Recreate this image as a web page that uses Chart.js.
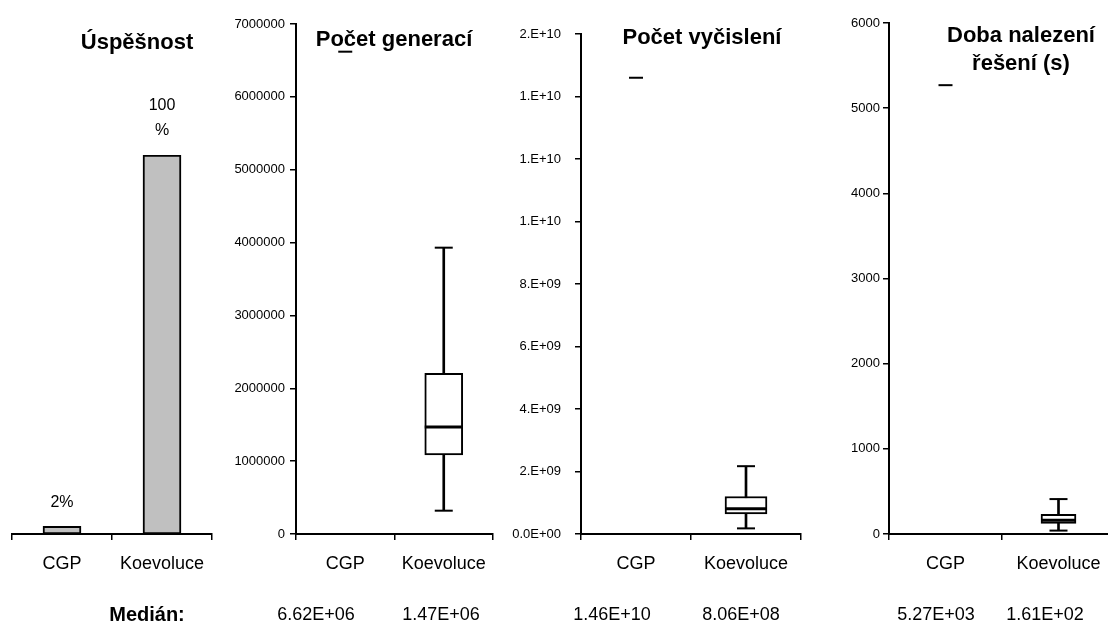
<!DOCTYPE html>
<html>
<head>
<meta charset="utf-8">
<script src="https://cdn.jsdelivr.net/npm/chart.js@4.4.1/dist/chart.umd.min.js"></script>
<style>
html,body{margin:0;padding:0;background:#fff;}
#wrap{position:relative;width:1108px;height:628px;overflow:hidden;font-family:"Liberation Sans",Arial,sans-serif;color:#000;}
canvas{position:absolute;top:0;}
.t{position:absolute;transform:translate(-50%,-50%);white-space:nowrap;color:#000;text-align:center;}
.title{font-weight:bold;font-size:22px;line-height:28px;}
.med{font-size:18px;}
</style>
</head>
<body>
<div id="wrap">
  <canvas id="c1" width="230" height="628" style="left:0px"></canvas>
  <canvas id="c2" width="300" height="628" style="left:200px"></canvas>
  <canvas id="c3" width="320" height="628" style="left:490px"></canvas>
  <canvas id="c4" width="320" height="628" style="left:810px"></canvas>
  <div id="texts"></div>
</div>
<script>
// ---------- DATA ----------
const categories = ['CGP', 'Koevoluce'];

// Úspěšnost (success rate, %)
const successRate = [2, 100];
const successLabels = ['2%', ['100', '%']];

// Počet generací (box plot statistics per category)
const genMin = [6620000, 320000];
const genQ1  = [6620000, 1085000];
const genMed = [6620000, 1470000];
const genQ3  = [6620000, 2205000];
const genMax = [6620000, 3930000];
const genTicks = ['0', '1000000', '2000000', '3000000', '4000000', '5000000', '6000000', '7000000'];

// Počet vyčislení
const evalMin = [1.46e10, 1.8e8];
const evalQ1  = [1.46e10, 6.4e8];
const evalMed = [1.46e10, 8.06e8];
const evalQ3  = [1.46e10, 1.2e9];
const evalMax = [1.46e10, 2.17e9];
const evalTicks = ['0.0E+00', '2.E+09', '4.E+09', '6.E+09', '8.E+09', '1.E+10', '1.E+10', '1.E+10', '2.E+10'];

// Doba nalezení řešení (s)
const timeMin = [5270, 40];
const timeQ1  = [5270, 125];
const timeMed = [5270, 161];
const timeQ3  = [5270, 232];
const timeMax = [5270, 410];
const timeTicks = ['0', '1000', '2000', '3000', '4000', '5000', '6000'];

// ---------- HELPERS ----------
const FONT = '"Liberation Sans", Arial, sans-serif';
function fmtExp(v) {
  const parts = v.toExponential(2).split('e');
  const n = parseInt(parts[1], 10);
  return parts[0] + 'E' + (n < 0 ? '-' : '+') + String(Math.abs(n)).padStart(2, '0');
}

const baseX = (L) => ({
  offset: true,
  grid: { offset: true, drawOnChartArea: false, drawTicks: true, tickLength: 6, color: '#000', lineWidth: 1.5 },
  border: { display: true, color: '#000', width: 2 },
  ticks: { color: '#000', font: { family: FONT, size: 18 }, padding: L.xpad, maxRotation: 0, autoSkip: false },
  afterFit: (s) => { s.height = L.xh; s.paddingLeft = 0; s.paddingRight = 0; }
});

// ---------- PANEL 1: Úspěšnost ----------
const barLabelPlugin = {
  id: 'barLabels',
  afterDatasetsDraw(chart) {
    const ctx = chart.ctx;
    const meta = chart.getDatasetMeta(0);
    ctx.save();
    ctx.font = '16px ' + FONT;
    ctx.fillStyle = '#000';
    ctx.textAlign = 'center';
    ctx.textBaseline = 'middle';
    meta.data.forEach((bar, i) => {
      const lines = [].concat(successLabels[i]);
      lines.forEach((t, j) => {
        ctx.fillText(t, bar.x, bar.y - 24 - (lines.length - 1 - j) * 25);
      });
    });
    ctx.restore();
  }
};

new Chart(document.getElementById('c1'), {
  type: 'bar',
  data: {
    labels: categories,
    datasets: [{
      data: successRate,
      backgroundColor: '#c0c0c0',
      borderColor: '#000',
      borderWidth: 2,
      borderSkipped: false,
      barThickness: 38
    }]
  },
  options: {
    responsive: false, animation: false, devicePixelRatio: 1,
    layout: { autoPadding: false, padding: { left: 12, right: 18, top: 155, bottom: 54 } },
    plugins: { legend: { display: false }, tooltip: { enabled: false } },
    scales: {
      x: baseX({ xpad: 13, xh: 40 }),
      y: { display: false, min: 0, max: 100 }
    }
  },
  plugins: [barLabelPlugin]
});

// ---------- BOX PLOT PANELS ----------
function boxChart(id, d, L) {
  const box = d.q1.map((q, i) => (q === d.q3[i] ? null : [q, d.q3[i]]));
  const whisk = d.min.map((m, i) => (m === d.max[i] ? null : [m, d.max[i]]));
  const caps = [];
  categories.forEach((c, i) => {
    if (d.min[i] !== d.max[i]) {
      caps.push({ x: c, y: d.min[i] });
      caps.push({ x: c, y: d.max[i] });
    }
  });
  const med = categories.map((c, i) => ({ x: c, y: d.med[i] }));
  const medR = categories.map((c, i) => (d.q1[i] === d.q3[i] ? L.dash : L.box / 2));
  const medW = categories.map((c, i) => (d.q1[i] === d.q3[i] ? 2 : L.mw));
  const nT = d.ticks.length;
  new Chart(document.getElementById(id), {
    type: 'bar',
    data: {
      labels: categories,
      datasets: [
        { data: whisk, backgroundColor: '#000', borderWidth: 0, barThickness: 2, grouped: false, order: 4 },
        { data: box, backgroundColor: '#fff', borderColor: '#000', borderWidth: 2, borderSkipped: false,
          barThickness: L.box, grouped: false, order: 3 },
        { type: 'line', data: caps, showLine: false, pointStyle: 'line', pointRadius: L.cap,
          pointBorderColor: '#000', pointBorderWidth: 2, borderColor: '#000', order: 2, clip: false },
        { type: 'line', data: med, showLine: false, pointStyle: 'line', pointRadius: medR,
          pointBorderColor: '#000', pointBorderWidth: medW, borderColor: '#000', order: 1, clip: false }
      ]
    },
    options: {
      responsive: false, animation: false, devicePixelRatio: 1,
      layout: { autoPadding: false, padding: { left: 0, right: L.pr, top: L.pt, bottom: 54 } },
      plugins: { legend: { display: false }, tooltip: { enabled: false } },
      scales: {
        x: baseX({ xpad: 13, xh: 40 }),
        y: {
          min: 0, max: d.step * (nT - 1),
          ticks: { stepSize: d.step, color: '#000', font: { family: FONT, size: 13 }, padding: L.yp,
                   callback: (v, i) => d.ticks[i] },
          grid: { drawOnChartArea: false, drawTicks: true, tickLength: 6, color: '#000', lineWidth: 1.5 },
          border: { display: true, color: '#000', width: 2 },
          afterFit: (s) => { s.width = L.yw; }
        }
      }
    }
  });
}

boxChart('c2', { min: genMin, q1: genQ1, med: genMed, q3: genQ3, max: genMax, ticks: genTicks, step: 1000000 },
         { yw: 96, pr: 7, pt: 24, box: 38, cap: 9, dash: 7, mw: 3, yp: 5 });
boxChart('c3', { min: evalMin, q1: evalQ1, med: evalMed, q3: evalQ3, max: evalMax, ticks: evalTicks, step: 2e9 },
         { yw: 91, pr: 9, pt: 34, box: 42, cap: 9, dash: 7, mw: 3, yp: 14 });
boxChart('c4', { min: timeMin, q1: timeQ1, med: timeMed, q3: timeQ3, max: timeMax, ticks: timeTicks, step: 1000 },
         { yw: 79, pr: 15, pt: 23, box: 35, cap: 9, dash: 7, mw: 3, yp: 3 });

// ---------- TEXT (titles + median row) ----------
const titles = [
  { text: 'Úspěšnost', x: 137, y: 42 },
  { text: 'Počet generací', x: 394, y: 39 },
  { text: 'Počet vyčislení', x: 702, y: 37 },
  { text: 'Doba nalezení<br>řešení (s)', x: 1021, y: 49 }
];
const medianRow = [
  { text: 'Medián:', x: 147, bold: true },
  { text: fmtExp(genMed[0]), x: 316 },
  { text: fmtExp(genMed[1]), x: 441 },
  { text: fmtExp(evalMed[0]), x: 612 },
  { text: fmtExp(evalMed[1]), x: 741 },
  { text: fmtExp(timeMed[0]), x: 936 },
  { text: fmtExp(timeMed[1]), x: 1045 }
];
const tc = document.getElementById('texts');
titles.forEach(t => {
  const el = document.createElement('div');
  el.className = 't title';
  el.style.left = t.x + 'px'; el.style.top = t.y + 'px';
  el.innerHTML = t.text;
  tc.appendChild(el);
});
medianRow.forEach(t => {
  const el = document.createElement('div');
  el.className = 't med';
  el.style.left = t.x + 'px'; el.style.top = '614px';
  if (t.bold) { el.style.fontWeight = 'bold'; el.style.fontSize = '20px'; }
  el.textContent = t.text;
  tc.appendChild(el);
});
</script>
</body>
</html>
